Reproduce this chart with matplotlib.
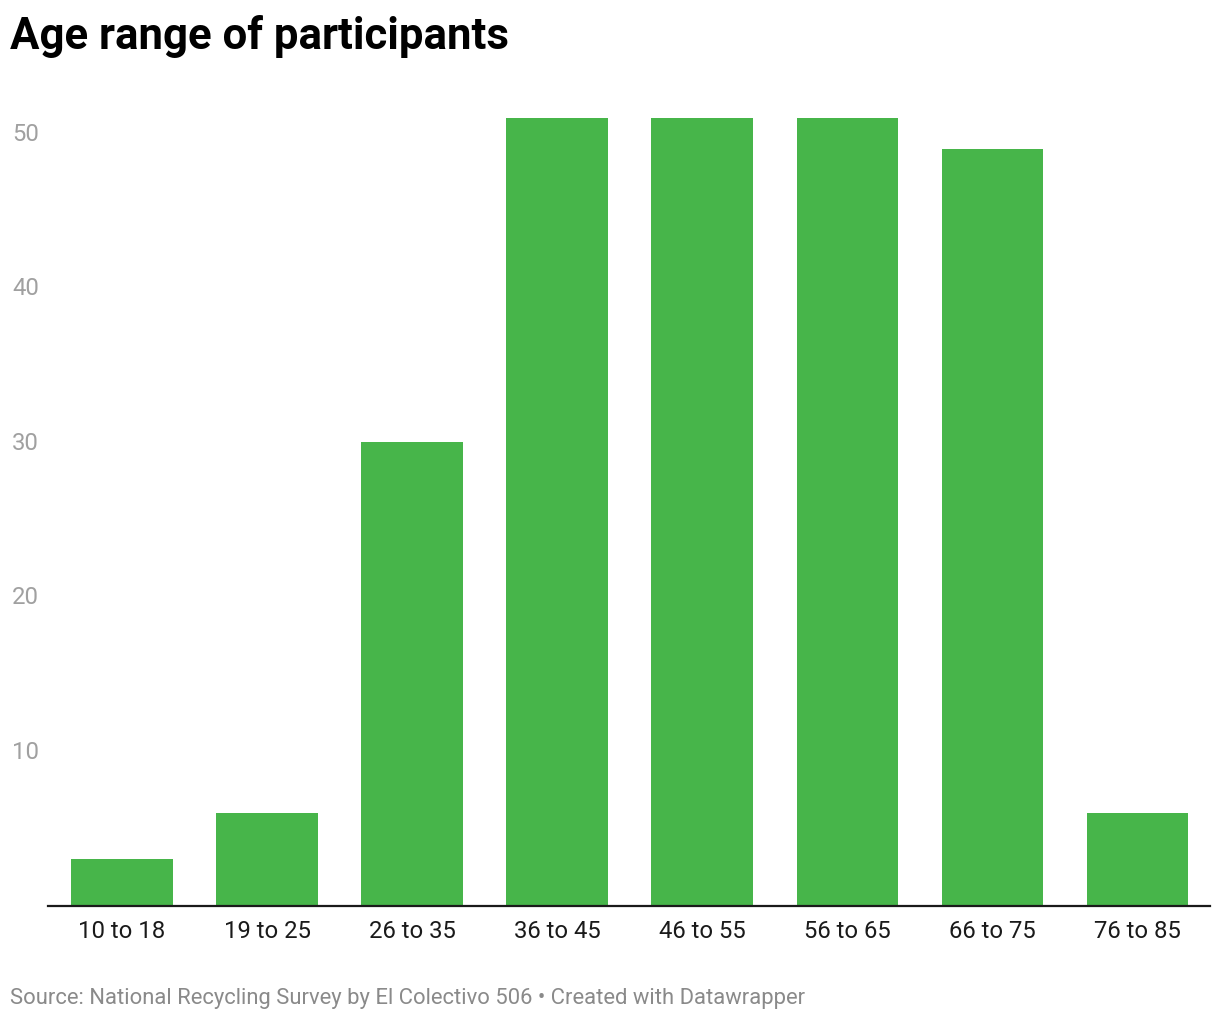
import matplotlib
matplotlib.use("Agg")
import matplotlib.pyplot as plt
from matplotlib.transforms import blended_transform_factory

categories = ["10 to 18", "19 to 25", "26 to 35", "36 to 45", "46 to 55", "56 to 65", "66 to 75", "76 to 85"]
values = [3, 6, 30, 51, 51, 51, 49, 6]
yticks = [10, 20, 30, 40, 50]

plt.rcParams['font.family'] = ['Roboto', 'DejaVu Sans']

W, H = 1220, 1020
fig = plt.figure(figsize=(W / 100, H / 100), dpi=100)
base_px = 906.5
unit = 15.44
ax_top_px = base_px - 55 * unit
ax = fig.add_axes([48 / W, (H - base_px) / H, (1210 - 48) / W, (base_px - ax_top_px) / H])

x = list(range(len(categories)))
ax.bar(x, values, width=0.70, color="#47b54a", zorder=2)
ax.set_xlim(-0.51, len(categories) - 0.5)
ax.set_ylim(0, 55)

for s in ["top", "right", "left"]:
    ax.spines[s].set_visible(False)
ax.spines["bottom"].set_color("#1a1a1a")
ax.spines["bottom"].set_linewidth(1.6)
ax.spines["bottom"].set_zorder(3)

ax.set_xticks(x)
ax.set_xticklabels(categories, fontsize=17.2, color="#1a1a1a")
ax.tick_params(axis="x", length=0, pad=9.5)
ax.set_yticks([])

tr = blended_transform_factory(fig.transFigure, ax.transData)
for t in yticks:
    fig.text(12 / W, t, str(t), transform=tr, ha="left", va="center",
             fontsize=17.2, color="#a0a0a0")

fig.text(10 / W, 1 - 37 / H, "Age range of participants", ha="left", va="center",
         fontsize=31.5, fontweight="bold", color="#000000")
fig.text(10 / W, 1 - 999 / H,
         "Source: National Recycling Survey by El Colectivo 506 \u2022 Created with Datawrapper",
         ha="left", va="center", fontsize=15.8, color="#8a8a8a")

fig.savefig("out.png", dpi=100, facecolor="white")
